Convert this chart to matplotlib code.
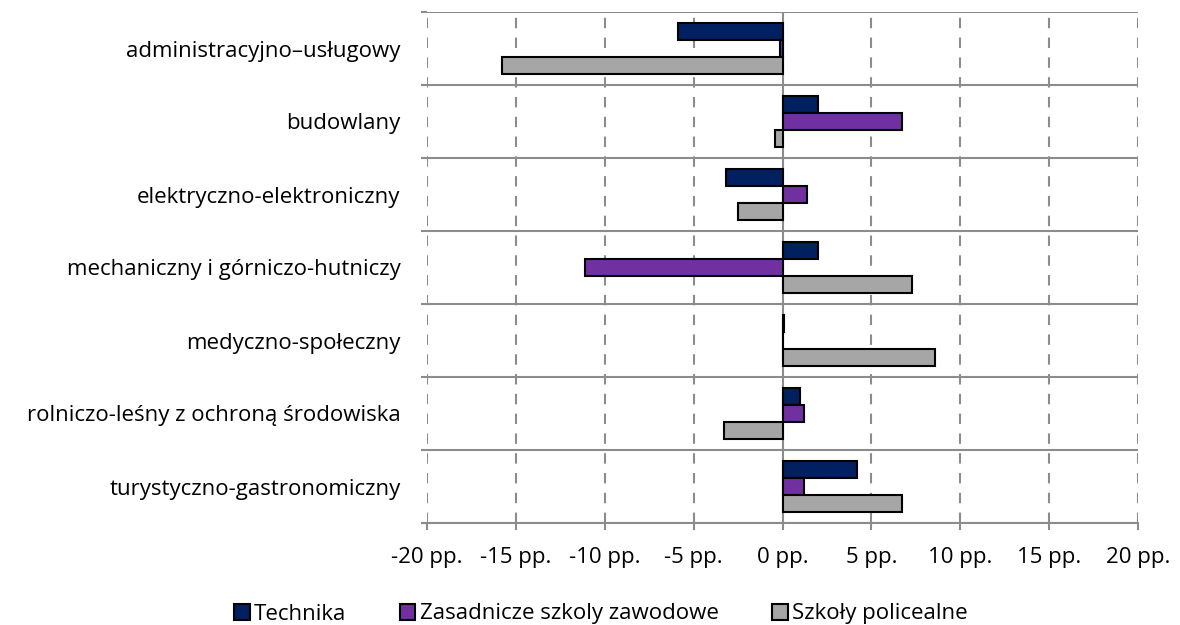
import numpy as np
import matplotlib
matplotlib.use("Agg")
import matplotlib.pyplot as plt
from matplotlib.patches import Patch

plt.rcParams['font.family'] = ['Open Sans', 'DejaVu Sans']

categories = [
    "administracyjno\u2013usługowy",
    "budowlany",
    "elektryczno-elektroniczny",
    "mechaniczny i górniczo-hutniczy",
    "medyczno-społeczny",
    "rolniczo-leśny z ochroną środowiska",
    "turystyczno-gastronomiczny",
]
series_names = ["Technika", "Zasadnicze szkoly zawodowe", "Szkoły policealne"]
technika = [-5.9, 2.0, -3.2, 2.0, 0.1, 1.0, 4.2]
zasadnicze = [-0.15, 6.7, 1.4, -11.1, 0.0, 1.2, 1.2]
policealne = [-15.8, -0.45, -2.5, 7.3, 8.6, -3.3, 6.7]
x_ticks = [-20, -15, -10, -5, 0, 5, 10, 15, 20]
x_labels = [f"{t} pp." for t in x_ticks]

colors = ["#002060", "#7030A0", "#A6A6A6"]
grid_c = "#8C8C8C"
fs = 16

fig = plt.figure(figsize=(11.8, 6.25), dpi=100)
ax = fig.add_axes([427 / 1180, 1 - 523 / 625, 711 / 1180, 511 / 625])

y = np.arange(len(categories))
h = 0.233
for i, (vals, c) in enumerate(zip([technika, zasadnicze, policealne], colors)):
    ax.barh(y + (i - 1) * h, vals, height=h, color=c, edgecolor="black",
            linewidth=1.5, zorder=3)

ax.set_xlim(-20, 20)
ax.set_ylim(len(categories) - 0.5, -0.5)

# vertical dashed grid, solid zero line
for t in x_ticks:
    if t == 0:
        ax.axvline(0, color=grid_c, lw=1.5, zorder=2)
    else:
        ax.axvline(t, color=grid_c, lw=1.5, ls=(0, (5, 4.5)), zorder=1)

# horizontal separators between categories
for b in np.arange(-0.5, len(categories), 1.0):
    ax.axhline(b, color=grid_c, lw=1.5, zorder=1)

for s in ["top", "right", "left"]:
    ax.spines[s].set_visible(False)
ax.spines["bottom"].set_color(grid_c)
ax.spines["bottom"].set_linewidth(1.5)

ax.set_xticks(x_ticks)
ax.set_xticklabels(x_labels, fontsize=fs)
ax.tick_params(axis="x", direction="out", length=5, width=1.5, color=grid_c, pad=12)

ax.set_yticks(y)
ax.set_yticklabels(categories, fontsize=fs)
ax.tick_params(axis="y", length=0, pad=19)
ax.set_yticks(np.arange(-0.5, len(categories), 1.0), minor=True)
ax.tick_params(axis="y", which="minor", length=4, width=1.5, color=grid_c)

handles = [Patch(facecolor=c, edgecolor="black", linewidth=1.5) for c in colors]
fig.legend(handles, series_names, loc="center", ncol=3, frameon=False,
           bbox_to_anchor=(601 / 1180, 1 - 614 / 625), fontsize=fs,
           handlelength=0.7, handleheight=0.7, handletextpad=0.2, columnspacing=2.4)

fig.savefig("out.png", dpi=100)
